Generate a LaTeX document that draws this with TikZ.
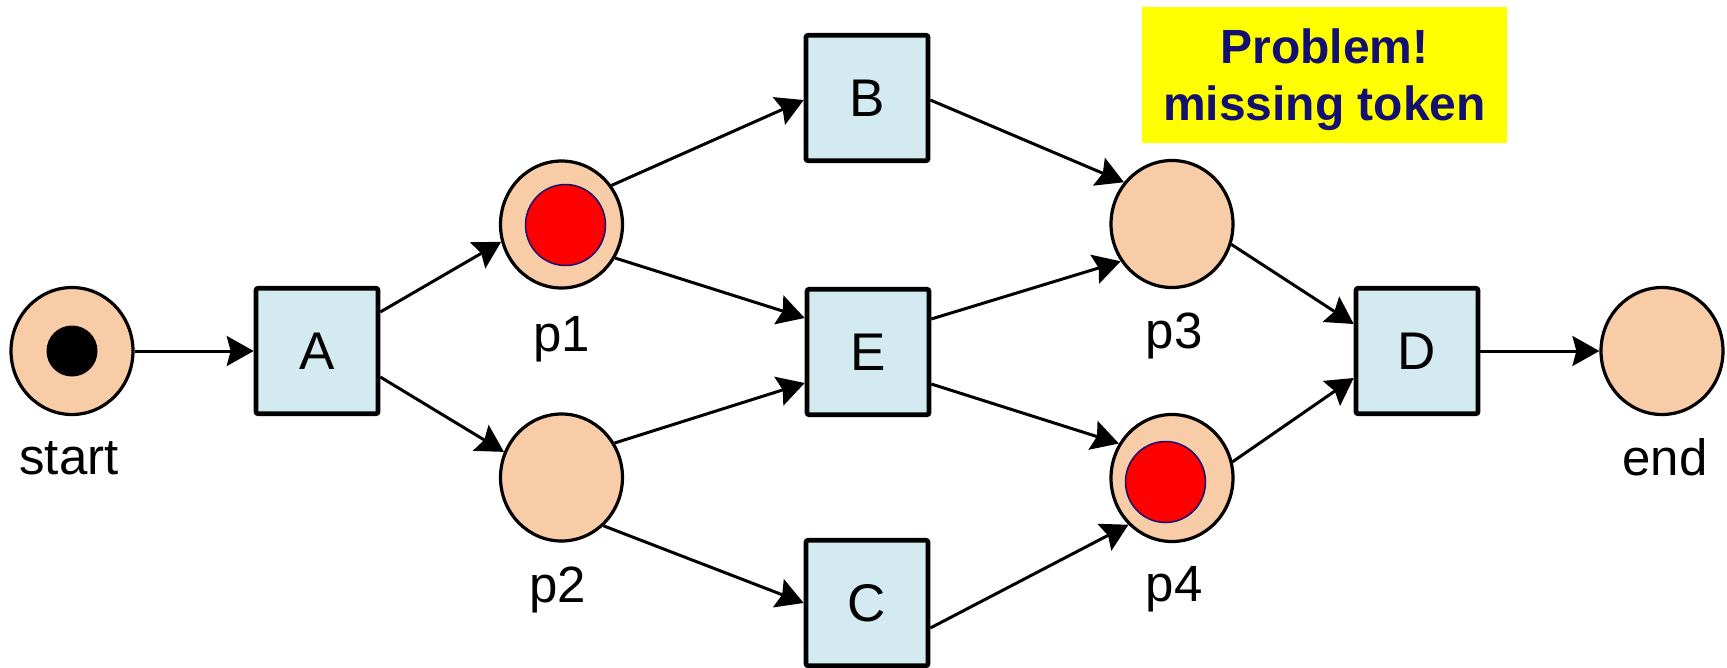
\documentclass[tikz,border=0pt]{standalone}
\usepackage{fontspec}
\setmainfont{Liberation Sans}
\usetikzlibrary{arrows.meta,shapes.geometric,calc}
\definecolor{placefill}{RGB}{249,204,168}
\definecolor{transfill}{RGB}{210,234,240}
\definecolor{tokred}{RGB}{255,0,0}
\definecolor{tokedge}{RGB}{20,16,112}
\definecolor{notefill}{RGB}{255,255,0}
\definecolor{notetext}{RGB}{20,16,112}
\begin{document}
\begin{tikzpicture}[x=1pt,y=-1pt,
  place/.style={ellipse,draw=black,line width=3.2pt,fill=placefill,
    minimum width=122pt,minimum height=127pt,inner sep=0pt},
  trans/.style={rectangle,draw=black,line width=4.6pt,fill=transfill,
    minimum width=122pt,minimum height=125.5pt,inner sep=0pt,rounded corners=2pt,
    font=\fontsize{53}{60}\selectfont},
  tokenblack/.style={circle,fill=black,minimum size=51pt,inner sep=0pt},
  tokenred/.style={ellipse,fill=tokred,draw=tokedge,line width=1.5pt,
    minimum width=80pt,minimum height=81pt,inner sep=0pt},
  lbl/.style={anchor=base,font=\fontsize{51}{60}\selectfont,inner sep=0pt},
  arc/.style={-{Stealth[length=27pt,width=30pt,inset=4pt]},line width=3pt},
  notebox/.style={rectangle,fill=notefill,minimum width=365pt,minimum height=136pt,inner sep=0pt},
  notetxt/.style={align=center,text=notetext,inner sep=0pt,
    font=\bfseries\fontsize{48}{57}\selectfont}
]
\useasboundingbox (0,0) rectangle (1727,667);

\node[notebox] (notebg) at (1324.5,75) {};
\node[notetxt] (note) at (1324.5,80) {Problem!\\missing token};

\node[place] (start) at (72,351) {};
\node[tokenblack] (tok0) at (72,351) {};
\node[trans] (A) at (317,351) {A};
\node[place] (p1) at (561.5,224.5) {};
\node[tokenred] (tok1) at (565.5,225) {};
\node[place] (p2) at (561.5,477.5) {};
\node[trans] (B) at (867,98) {B};
\node[trans] (E) at (868,352) {E};
\node[trans] (C) at (867,603) {C};
\node[place] (p3) at (1172,224) {};
\node[place] (p4) at (1172,478) {};
\node[tokenred] (tok4) at (1165.5,482) {};
\node[trans] (D) at (1417,351) {D};
\node[place] (pend) at (1662,351) {};

\node[lbl] (lstart) at (69,474) {start};
\node[lbl] (lp1) at (562,351) {p1};
\node[lbl] (lp2) at (558,602) {p2};
\node[lbl] (lp3) at (1174,348) {p3};
\node[lbl] (lp4) at (1174,601) {p4};
\node[lbl] (lend) at (1665,475) {end};

\draw[arc] (start) -- (A);
\draw[arc] ($(A.east)+(0,-39)$) -- (p1.196);
\draw[arc] ($(A.east)+(0,26)$) -- (p2.156);
\draw[arc] (p1.38) -- ($(B.west)+(0,2)$);
\draw[arc] (p1.-32) -- ($(E.west)+(0,-34)$);
\draw[arc] (p2.33) -- ($(E.west)+(0,31)$);
\draw[arc] (p2.-49) -- (C.west);
\draw[arc] ($(B.east)+(0,2)$) -- (p3.139);
\draw[arc] ($(E.east)+(0,-33)$) -- (p3.216);
\draw[arc] ($(E.east)+(0,32)$) -- (p4.147);
\draw[arc] ($(C.east)+(0,25)$) -- (p4.227);
\draw[arc] (p3.-19) -- ($(D.west)+(0,-27)$);
\draw[arc] (p4.15) -- ($(D.west)+(0,27)$);
\draw[arc] (D) -- (pend);
\end{tikzpicture}
\end{document}
